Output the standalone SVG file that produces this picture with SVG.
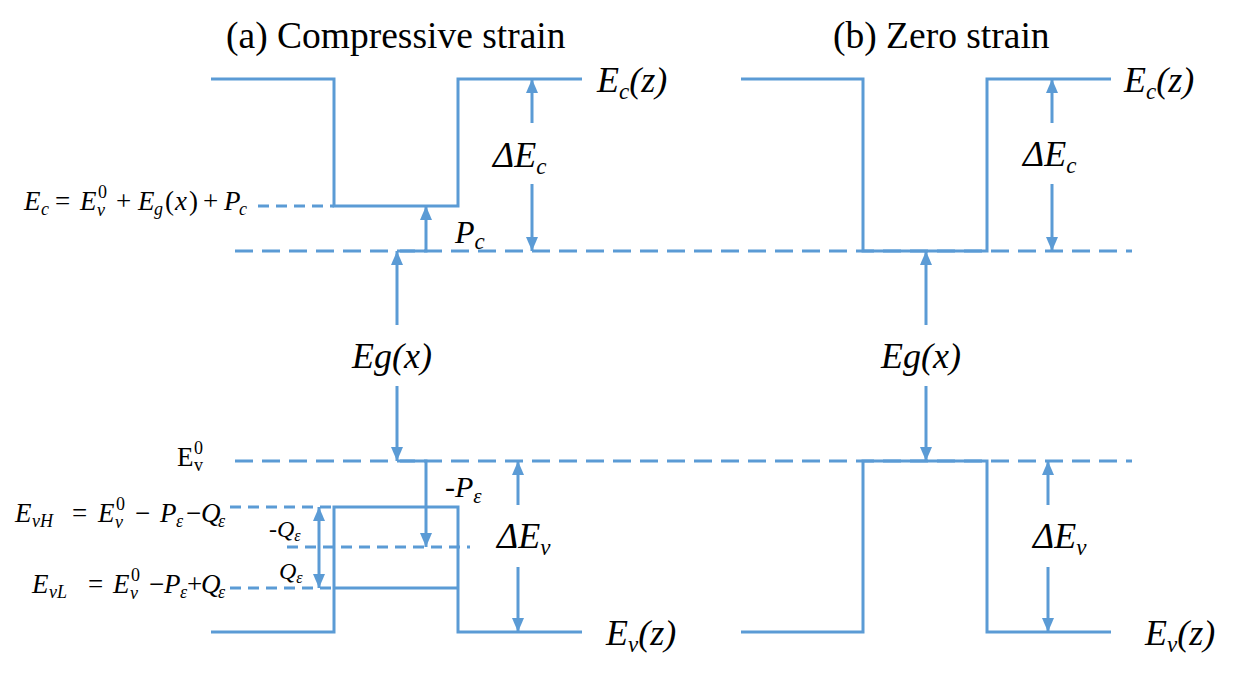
<svg xmlns="http://www.w3.org/2000/svg" width="1253" height="678" viewBox="0 0 1253 678">
<style>
.band{fill:none;stroke:#5B9BD5;stroke-width:3;stroke-linejoin:miter}
.dl{fill:none;stroke:#5B9BD5;stroke-width:3;stroke-dasharray:18 9}
.ds{fill:none;stroke:#5B9BD5;stroke-width:3;stroke-dasharray:11 7}
.ar{fill:none;stroke:#5B9BD5;stroke-width:3;marker-end:url(#ah)}
.ar2{fill:none;stroke:#5B9BD5;stroke-width:3;marker-end:url(#ah);marker-start:url(#ah)}
text{font-family:"Liberation Serif","Times New Roman",serif;fill:#000}
.big{font-size:36px;font-style:italic}
.mid{font-size:32px;font-style:italic}
.sm{font-size:30px;font-style:italic}
.q{font-size:24px;font-style:italic}
.qs{font-size:16px}
.ttl{font-size:37.5px}
.sub{font-size:23px}
.sub2{font-size:21px}
.m{font-size:27px}
.i{font-style:italic}
.n{font-style:normal}
.ms{font-size:18px}
</style>
<defs>
<marker id="ah" markerUnits="userSpaceOnUse" markerWidth="14" markerHeight="12" refX="14" refY="6" orient="auto-start-reverse" viewBox="0 0 14 12">
<path d="M0,0 L14,6 L0,12 z" fill="#5B9BD5"/>
</marker>
</defs>

<g id="titles">
<text class="ttl" x="226" y="48">(a) Compressive strain</text>
<text class="ttl" x="833" y="48">(b) Zero strain</text>
</g>

<g id="bands-a">
<path class="band" d="M211,79 H334 V206 H458 V79 H582"/>
<path class="band" d="M211,632 H334 V507 H458 V632 H582"/>
<path class="band" d="M334,588 H458"/>
</g>
<g id="bands-b">
<path class="band" d="M741,79 H863 V251 H987 V79 H1111"/>
<path class="band" d="M741,632 H863 V461 H987 V632 H1111"/>
</g>

<g id="levels">
<path class="dl" d="M235,251 H1132"/>
<path class="dl" d="M235,461 H1132"/>
<path class="ds" d="M258,206 H334"/>
<path class="ds" d="M230,507 H334"/>
<path class="ds" d="M230,588 H334"/>
<path class="ds" d="M287,547 H470"/>
</g>

<g id="connectors">
<path class="ar" d="M532,123 V79"/>
<path class="ar" d="M532,184 V251"/>
<path class="ar" d="M400,251 H426 V206"/>
<path class="ar" d="M397,325 V251"/>
<path class="ar" d="M397,386 V461"/>
<path class="ar" d="M400,461 H426 V547"/>
<path class="ar2" d="M319,507 V588"/>
<path class="ar" d="M518,505 V461"/>
<path class="ar" d="M518,567 V632"/>
<path class="ar" d="M1052,123 V79"/>
<path class="ar" d="M1052,184 V251"/>
<path class="ar" d="M926,325 V251"/>
<path class="ar" d="M926,386 V461"/>
<path class="ar" d="M1048,505 V461"/>
<path class="ar" d="M1048,567 V632"/>
</g>

<g id="labels-a">
<text class="big" x="597" y="92">E<tspan class="sub" dy="7">c</tspan><tspan dy="-7">(z)</tspan></text>
<text class="big" x="493" y="167">ΔE<tspan class="sub" dy="7">c</tspan></text>
<text class="mid" x="455" y="243">P<tspan class="sub" dy="6">c</tspan></text>
<text class="big" x="352" y="368">Eg(x)</text>
<text class="sm" x="445" y="497"><tspan class="n">-</tspan>P<tspan class="sub2" dy="6">ε</tspan></text>
<text class="big" x="497" y="548">ΔE<tspan class="sub" dy="7">v</tspan></text>
<text class="big" x="606" y="645">E<tspan class="sub" dy="7">v</tspan><tspan dy="-7">(z)</tspan></text>
<text class="q" x="269" y="537"><tspan class="n">-</tspan>Q<tspan class="qs" dy="4">ε</tspan></text>
<text class="q" x="279" y="579">Q<tspan class="qs" dy="4">ε</tspan></text>
</g>

<g id="labels-b">
<text class="big" x="1124" y="92">E<tspan class="sub" dy="7">c</tspan><tspan dy="-7">(z)</tspan></text>
<text class="big" x="1023" y="166">ΔE<tspan class="sub" dy="7">c</tspan></text>
<text class="big" x="881" y="368">Eg(x)</text>
<text class="big" x="1033" y="548">ΔE<tspan class="sub" dy="7">v</tspan></text>
<text class="big" x="1145" y="645">E<tspan class="sub" dy="7">v</tspan><tspan dy="-7">(z)</tspan></text>
</g>

<g id="formula-ec">
<text class="m"><tspan class="i" x="24" y="210">E</tspan><tspan class="i ms" x="41" y="215">c</tspan><tspan x="55" y="210">=</tspan><tspan class="i" x="80" y="210">E</tspan><tspan class="i ms" x="97" y="216">v</tspan><tspan class="ms" x="98" y="198">0</tspan><tspan x="116" y="210">+</tspan><tspan class="i" x="138" y="210">E</tspan><tspan class="i ms" x="154" y="215">g</tspan><tspan x="165" y="210">(</tspan><tspan class="i" x="175" y="210">x</tspan><tspan x="189" y="210">)</tspan><tspan x="203" y="210">+</tspan><tspan class="i" x="224" y="210">P</tspan><tspan class="i ms" x="239" y="215">c</tspan></text>
</g>

<g id="formula-ev0">
<text class="m"><tspan x="177" y="466">E</tspan><tspan class="ms" x="194" y="471">v</tspan><tspan class="ms" x="194" y="454">0</tspan></text>
</g>

<g id="formula-evh">
<text class="m"><tspan class="i" x="15" y="522">E</tspan><tspan class="i ms" x="32" y="527">vH</tspan><tspan x="72" y="522">=</tspan><tspan class="i" x="98" y="522">E</tspan><tspan class="i ms" x="115" y="528">v</tspan><tspan class="ms" x="116" y="510">0</tspan><tspan x="135" y="522">−</tspan><tspan class="i" x="160" y="522">P</tspan><tspan class="i ms" x="176" y="527">ε</tspan><tspan x="186" y="522">−</tspan><tspan class="i" x="201" y="522">Q</tspan><tspan class="i ms" x="218" y="527">ε</tspan></text>
</g>

<g id="formula-evl">
<text class="m"><tspan class="i" x="32" y="593">E</tspan><tspan class="i ms" x="49" y="598">vL</tspan><tspan x="88" y="593">=</tspan><tspan class="i" x="113" y="593">E</tspan><tspan class="i ms" x="130" y="599">v</tspan><tspan class="ms" x="131" y="581">0</tspan><tspan x="149" y="593">−</tspan><tspan class="i" x="164" y="593">P</tspan><tspan class="i ms" x="180" y="598">ε</tspan><tspan x="187" y="593">+</tspan><tspan class="i" x="201" y="593">Q</tspan><tspan class="i ms" x="218" y="598">ε</tspan></text>
</g>
</svg>
